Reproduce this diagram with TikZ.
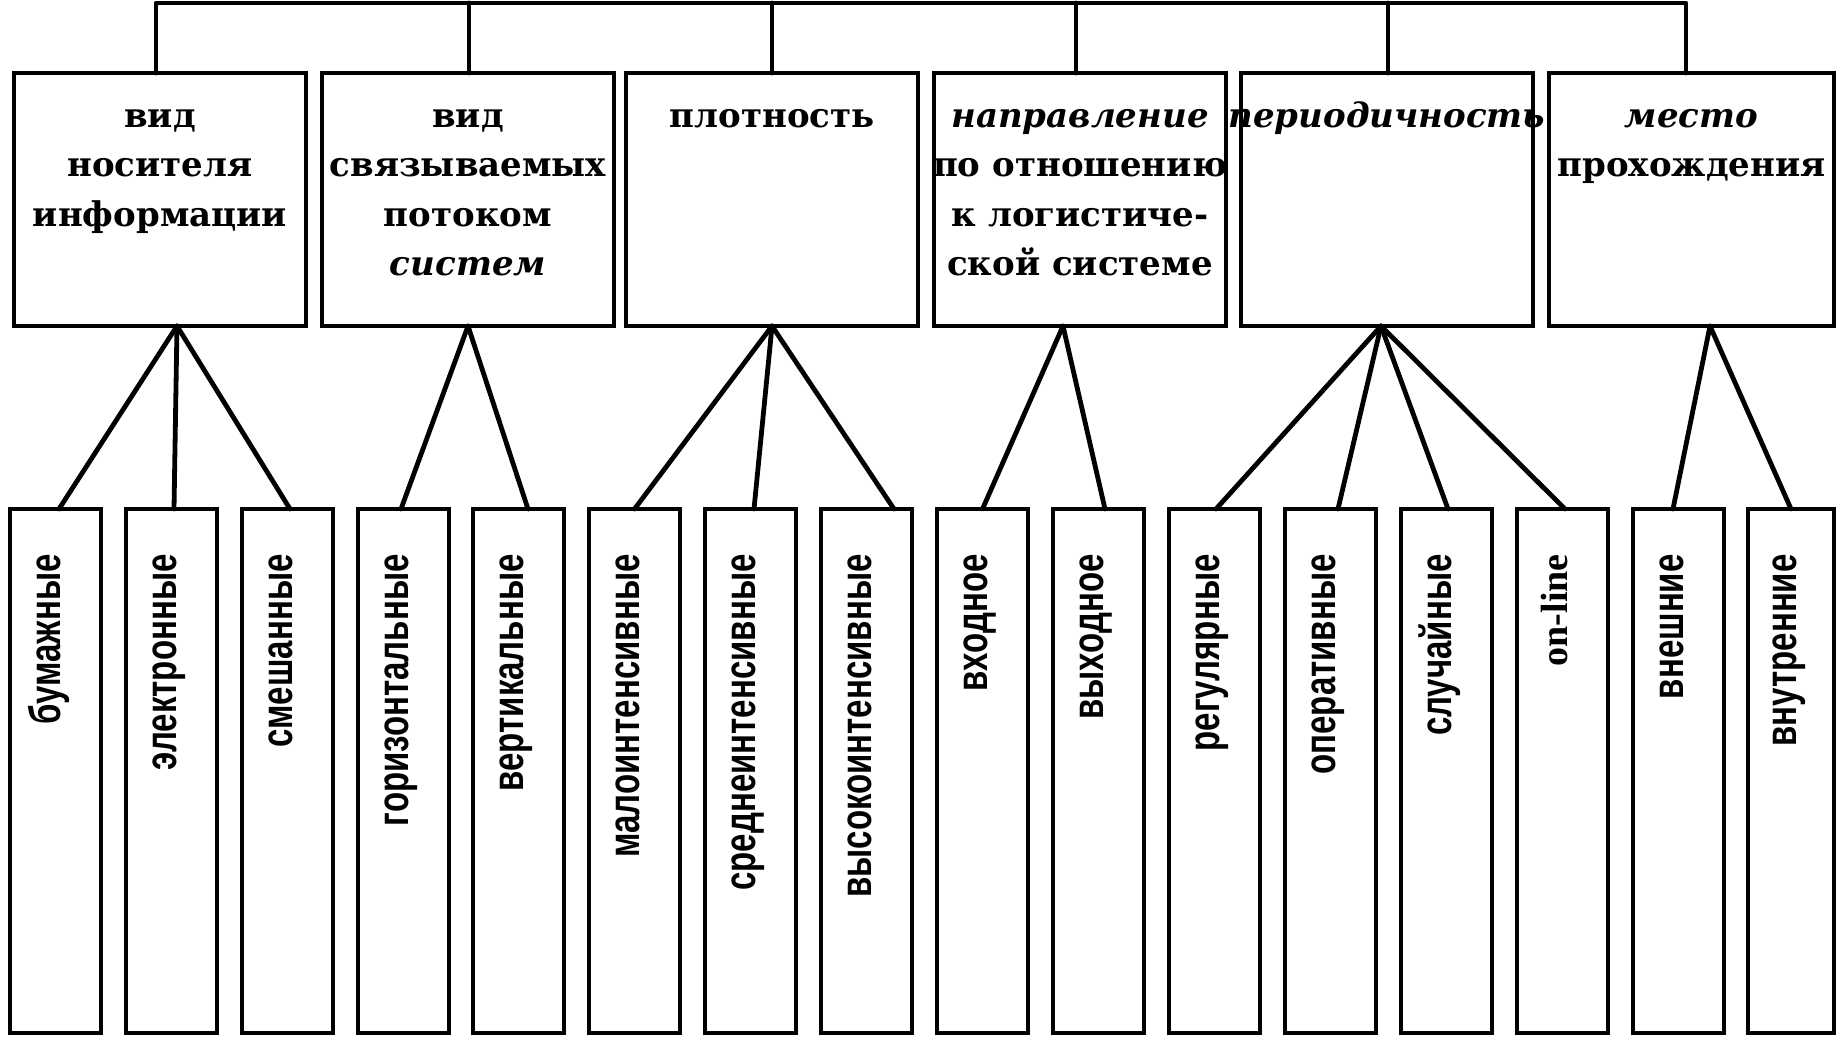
\documentclass[tikz,border=0pt]{standalone}
\usepackage{fontspec}
\setmainfont{DejaVu Serif}
\newfontfamily\vfont[FakeStretch=0.75]{Liberation Sans}
\newfontfamily\lfont{Liberation Serif}
\tikzset{
  topbox/.style={draw, line width=2.4pt, minimum width=146pt, minimum height=126.5pt, inner sep=0pt, outer sep=0pt, anchor=north west},
  botbox/.style={draw, line width=2.4pt, minimum width=45.5pt, minimum height=262pt, inner sep=0pt, outer sep=0pt, anchor=north west},
  toptext/.style={anchor=base, inner sep=0pt, font=\fontsize{17}{24.75}\selectfont\bfseries},
  vtext/.style={rotate=90, anchor=mid east, inner sep=0pt, font=\fontsize{22}{24}\selectfont\vfont\bfseries},
  conn/.style={line width=2.4pt, line cap=round, line join=round},
}
\newcommand{\tb}[1]{\parbox[t]{190pt}{\centering #1}}
\begin{document}
\begin{tikzpicture}[x=0.5pt, y=-0.5pt]
\path[fill=white, use as bounding box] (0,0) rectangle (1836,1040);
% top boxes
\node[topbox] (t1) at (14,73) {};
\node[topbox] (t2) at (322,73) {};
\node[topbox] (t3) at (626,73) {};
\node[topbox] (t4) at (934,73) {};
\node[topbox] (t5) at (1241,73) {};
\node[topbox, minimum width=142.5pt] (t6) at (1549,73) {};
% top texts
\node[toptext] (x1) at ([yshift=-27pt]t1.north) {\tb{вид\\носителя\\информации}};
\node[toptext] (x2) at ([yshift=-27pt]t2.north) {\tb{вид\\связываемых\\потоком\\\textit{систем}}};
\node[toptext] (x3) at ([yshift=-27pt]t3.north) {\tb{плотность}};
\node[toptext] (x4) at ([yshift=-27pt]t4.north) {\tb{\textit{направление}\\по отношению\\к логистиче-\\ской системе}};
\node[toptext] (x5) at ([yshift=-27pt]t5.north) {\tb{\textit{периодичность}}};
\node[toptext] (x6) at ([yshift=-27pt]t6.north) {\tb{\textit{место}\\прохождения}};
% bottom boxes
\node[botbox] (b1) at (10,509) {};
\node[botbox] (b2) at (126,509) {};
\node[botbox] (b3) at (242,509) {};
\node[botbox] (b4) at (358,509) {};
\node[botbox] (b5) at (473,509) {};
\node[botbox] (b6) at (589,509) {};
\node[botbox] (b7) at (705,509) {};
\node[botbox] (b8) at (821,509) {};
\node[botbox] (b9) at (937,509) {};
\node[botbox] (b10) at (1053,509) {};
\node[botbox] (b11) at (1169,509) {};
\node[botbox] (b12) at (1285,509) {};
\node[botbox] (b13) at (1401,509) {};
\node[botbox] (b14) at (1517,509) {};
\node[botbox] (b15) at (1633,509) {};
\node[botbox, minimum width=43pt] (b16) at (1748,509) {};
% bottom texts
\node[vtext] (y1) at ([yshift=-22.5pt]b1.north) {бумажные};
\node[vtext] (y2) at ([yshift=-22.5pt]b2.north) {электронные};
\node[vtext] (y3) at ([yshift=-22.5pt]b3.north) {смешанные};
\node[vtext] (y4) at ([yshift=-22.5pt]b4.north) {горизонтальные};
\node[vtext] (y5) at ([yshift=-22.5pt]b5.north) {вертикальные};
\node[vtext] (y6) at ([yshift=-22.5pt]b6.north) {малоинтенсивные};
\node[vtext] (y7) at ([yshift=-22.5pt]b7.north) {среднеинтенсивные};
\node[vtext] (y8) at ([yshift=-22.5pt]b8.north) {высокоинтенсивные};
\node[vtext] (y9) at ([yshift=-22.5pt]b9.north) {входное};
\node[vtext] (y10) at ([yshift=-22.5pt]b10.north) {выходное};
\node[vtext] (y11) at ([yshift=-22.5pt]b11.north) {регулярные};
\node[vtext] (y12) at ([yshift=-22.5pt]b12.north) {оперативные};
\node[vtext] (y13) at ([yshift=-22.5pt]b13.north) {случайные};
\node[vtext, font=\fontsize{19}{22}\selectfont\lfont\bfseries] (y14) at ([yshift=-22.5pt]b14.north) {on-line};
\node[vtext] (y15) at ([yshift=-22.5pt]b15.north) {внешние};
\node[vtext] (y16) at ([yshift=-22.5pt]b16.north) {внутренние};
% top connector
\coordinate (topline) at (0,3);
\coordinate (v1) at ([xshift=-2pt]t1.north);
\coordinate (v2) at ([xshift=0.5pt]t2.north);
\coordinate (v3) at (t3.north);
\coordinate (v4) at ([xshift=-2pt]t4.north);
\coordinate (v5) at ([xshift=0.5pt]t5.north);
\coordinate (v6) at ([xshift=-2.75pt]t6.north);
\draw[conn] (v1) -- (v1 |- topline) -- (v6 |- topline) -- (v6);
\draw[conn] (v2) -- (v2 |- topline);
\draw[conn] (v3) -- (v3 |- topline);
\draw[conn] (v4) -- (v4 |- topline);
\draw[conn] (v5) -- (v5 |- topline);
% apexes
\coordinate (a1) at ([xshift=8.5pt]t1.south);
\coordinate (a2) at (t2.south);
\coordinate (a3) at (t3.south);
\coordinate (a4) at ([xshift=-8.5pt]t4.south);
\coordinate (a5) at ([xshift=-3pt]t5.south);
\coordinate (a6) at ([xshift=9.25pt]t6.south);
% fans
\draw[conn] (a1) -- ([xshift=1.75pt]b1.north);
\draw[conn] (a1) -- ([xshift=1.25pt]b2.north);
\draw[conn] (a1) -- ([xshift=1.25pt]b3.north);
\draw[conn] (a2) -- ([xshift=-1.25pt]b4.north);
\draw[conn] (a2) -- ([xshift=4.75pt]b5.north);
\draw[conn] (a3) -- (b6.north);
\draw[conn] (a3) -- ([xshift=1.75pt]b7.north);
\draw[conn] (a3) -- ([xshift=13.75pt]b8.north);
\draw[conn] (a4) -- (b9.north);
\draw[conn] (a4) -- ([xshift=3.25pt]b10.north);
\draw[conn] (a5) -- ([xshift=0.75pt]b11.north);
\draw[conn] (a5) -- ([xshift=3.75pt]b12.north);
\draw[conn] (a5) -- ([xshift=0.75pt]b13.north);
\draw[conn] (a5) -- ([xshift=1.25pt]b14.north);
\draw[conn] (a6) -- ([xshift=-2.75pt]b15.north);
\draw[conn] (a6) -- (b16.north);
\end{tikzpicture}
\end{document}
